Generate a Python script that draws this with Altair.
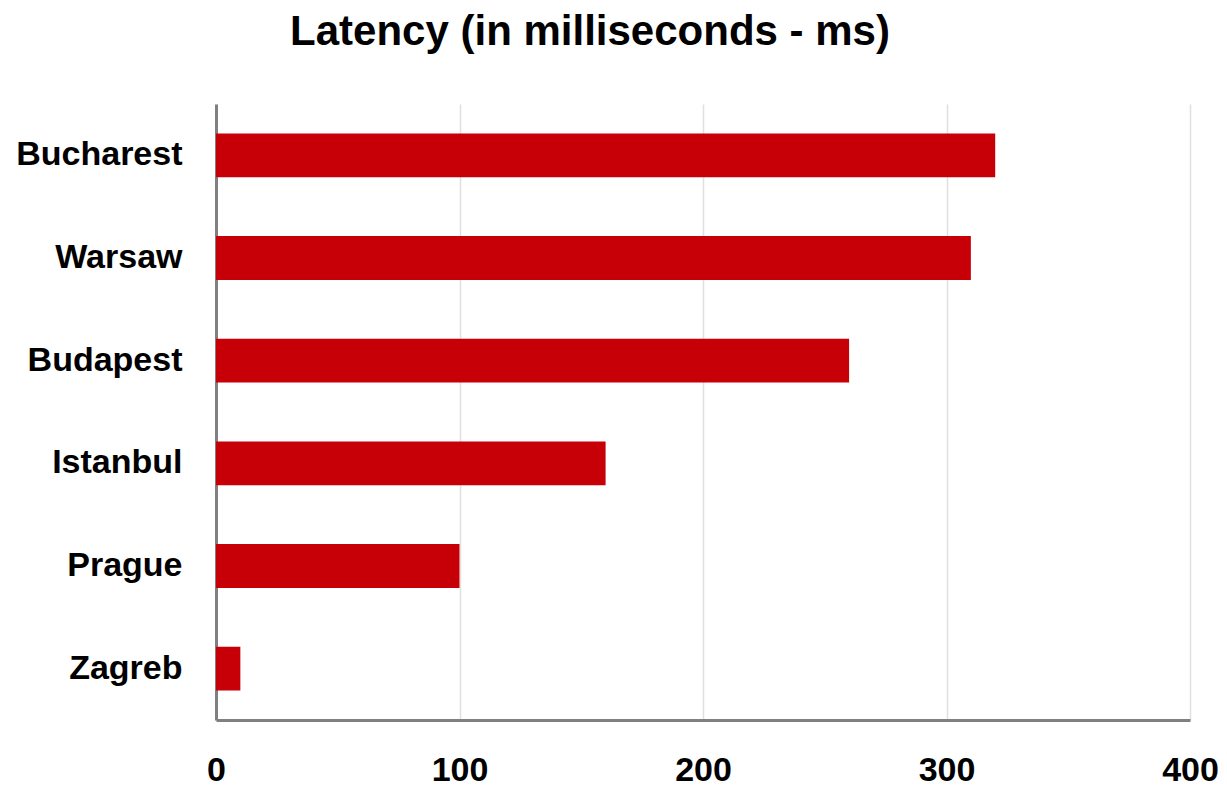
import altair as alt
import pandas as pd

cities = ["Bucharest", "Warsaw", "Budapest", "Istanbul", "Prague", "Zagreb"]
latency = [320, 310, 260, 160, 100, 10]
x_ticks = [0, 100, 200, 300, 400]

df = pd.DataFrame({"city": cities, "latency": latency})

FONT = "Liberation Sans"

chart = alt.Chart(df).mark_bar(color="#c70008").encode(
    y=alt.Y("city:N", sort=cities, title=None,
            scale=alt.Scale(paddingInner=0.573, paddingOuter=0.2865),
            axis=alt.Axis(domain=True, domainColor="#808080", domainWidth=3,
                          ticks=False, tickSize=0, grid=False,
                          labelFont=FONT, labelFontSize=34, labelFontWeight="bold",
                          labelColor="#000000", labelPadding=34)),
    x=alt.X("latency:Q", title=None,
            scale=alt.Scale(domain=[0, 400], nice=False),
            axis=alt.Axis(values=x_ticks, domain=True, domainColor="#808080", domainWidth=3,
                          ticks=False, tickSize=0, grid=True, gridColor="#e0e0e0", gridWidth=1.5,
                          labelFont=FONT, labelFontSize=34, labelFontWeight="bold",
                          labelColor="#000000", labelPadding=33, labelFlush=False)),
).properties(
    width=974,
    height=616,
    title=alt.TitleParams("Latency (in milliseconds - ms)", font=FONT, fontSize=42,
                          fontWeight="bold", color="#000000", anchor="middle",
                          baseline="alphabetic", offset=17, dx=-113),
    autosize=alt.AutoSizeParams(type="none"),
    padding={"left": 208, "top": 96, "right": 29, "bottom": 72},
).configure_view(stroke=None)

chart.save("out.html", embed_options={"renderer": "svg", "actions": False})
